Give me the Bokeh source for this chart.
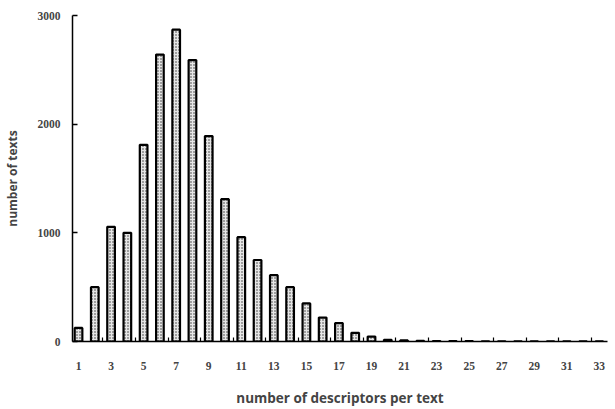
from bokeh.plotting import figure
from bokeh.models import FixedTicker, Range1d
from bokeh.embed import file_html
from bokeh.resources import INLINE

descriptors = list(range(1, 34))
counts = [125, 500, 1055, 1000, 1810, 2640, 2870, 2590, 1890, 1310,
          960, 750, 610, 500, 350, 220, 170, 80, 45, 15,
          10, 5, 4, 3, 3, 2, 2, 2, 1, 1, 1, 1, 1]
y_ticks = [0, 1000, 2000, 3000]
x_label_ticks = list(range(1, 34, 2))
x_minor_ticks = [k + 0.5 for k in range(2, 33, 2)]

p = figure(width=615, height=409, output_backend="svg", toolbar_location=None,
           x_range=Range1d(0.63, 33.5), y_range=Range1d(0, 3000),
           min_border_left=71, min_border_right=8, min_border_top=15,
           min_border_bottom=66)
p.outline_line_color = None
p.xgrid.visible = False
p.ygrid.visible = False
p.background_fill_color = "white"

p.vbar(x=descriptors, top=counts, width=0.47, bottom=0,
       fill_color="#e6e6e6", line_color="black", line_width=2.2,
       hatch_pattern="dot", hatch_color="#333333", hatch_scale=3, hatch_weight=1.2)

serif = "Liberation Serif"
sans = "Open Sans"

ya = p.yaxis[0]
ya.ticker = FixedTicker(ticks=y_ticks)
ya.major_tick_in = 5
ya.major_tick_out = 0
ya.minor_tick_line_color = None
ya.axis_line_width = 1.5
ya.major_tick_line_width = 1.5
ya.major_label_text_font = serif
ya.major_label_text_font_style = "bold"
ya.major_label_text_font_size = "11.5px"
ya.major_label_standoff = 12
ya.axis_label = "number of texts"
ya.axis_label_text_font = sans
ya.axis_label_text_font_style = "bold"
ya.axis_label_text_font_size = "12px"
ya.axis_label_standoff = 14

xa = p.xaxis[0]
xa.ticker = FixedTicker(ticks=x_label_ticks, minor_ticks=x_minor_ticks)
xa.major_tick_line_color = None
xa.minor_tick_in = 4
xa.minor_tick_out = 0
xa.minor_tick_line_width = 1.2
xa.axis_line_width = 1.5
xa.major_label_text_font = serif
xa.major_label_text_font_style = "bold"
xa.major_label_text_font_size = "11.5px"
xa.major_label_standoff = 14
xa.axis_label = "number of descriptors per text"
xa.axis_label_text_font = sans
xa.axis_label_text_font_style = "bold"
xa.axis_label_text_font_size = "13.5px"
xa.axis_label_standoff = 16

open("out.html", "w").write(file_html(p, INLINE))
